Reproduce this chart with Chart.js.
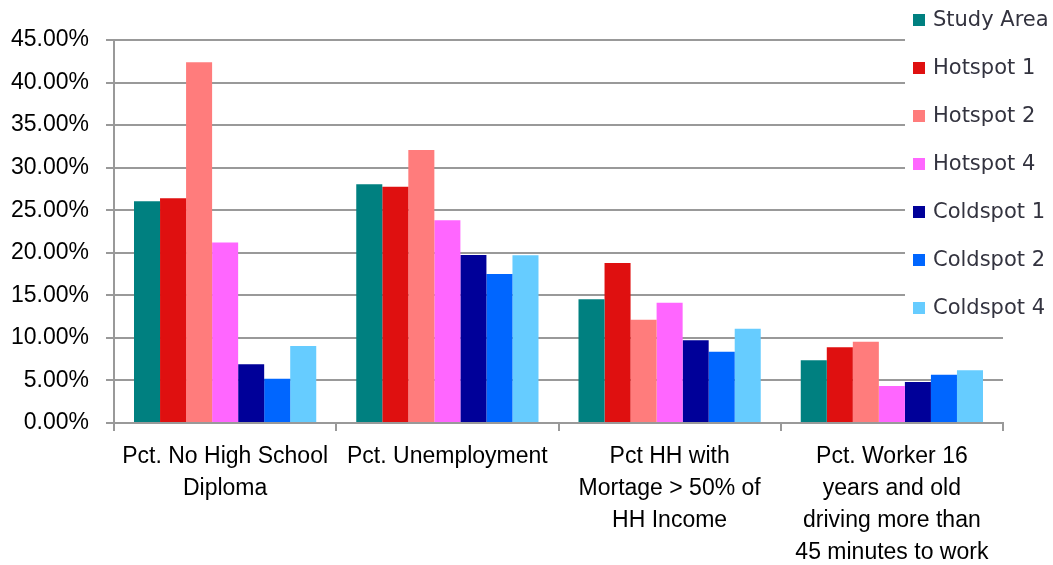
<!DOCTYPE html>
<html>
<head>
<meta charset="utf-8">
<script src="https://cdn.jsdelivr.net/npm/chart.js@4/dist/chart.umd.min.js"></script>
<style>
  html, body { margin: 0; padding: 0; background: #fff; }
  #wrap { width: 1053px; height: 565px; }
</style>
</head>
<body>
<div id="wrap"><canvas id="chart" width="1053" height="565"></canvas></div>
<script>
// Categories (x axis, multi-line labels)
const categories = [
    ['Pct. No High School', 'Diploma'],
    ['Pct. Unemployment'],
    ['Pct HH with', 'Mortage > 50% of', 'HH Income'],
    ['Pct. Worker 16', 'years and old', 'driving more than', '45 minutes to work']
];

// Series names and colours
const seriesNames = ['Study Area', 'Hotspot 1', 'Hotspot 2', 'Hotspot 4', 'Coldspot 1', 'Coldspot 2', 'Coldspot 4'];
const seriesColors = ['#008080', '#DF1010', '#FF7C7C', '#FF66FF', '#000099', '#0066FF', '#66CCFF'];

// Values in percent
const studyArea = [26.05, 28.05, 14.53, 7.37];
const hotspot1 = [26.4, 27.77, 18.8, 8.9];
const hotspot2 = [42.39, 32.08, 12.14, 9.55];
const hotspot4 = [21.2, 23.82, 14.14, 4.35];
const coldspot1 = [6.9, 19.74, 9.72, 4.82];
const coldspot2 = [5.2, 17.5, 8.38, 5.68];
const coldspot4 = [9.05, 19.7, 11.08, 6.19];

// Y axis range
const yMin = 0;
const yMax = 45;
const yStep = 5;

const seriesValues = [studyArea, hotspot1, hotspot2, hotspot4, coldspot1, coldspot2, coldspot4];

// Legend drawn on the right, over the grid lines, like the original
const sideLegend = {
    id: 'sideLegend',
    afterDraw(chart) {
        const ctx = chart.ctx;
        ctx.save();
        ctx.fillStyle = '#fff';
        ctx.fillRect(905, 0, 148, 330);
        ctx.font = '21px "DejaVu Sans"';
        ctx.textBaseline = 'middle';
        chart.data.datasets.forEach((ds, i) => {
            const y = 20 + i * 48;
            ctx.fillStyle = ds.backgroundColor;
            ctx.fillRect(913, y - 6, 12, 12);
            ctx.fillStyle = '#33333f';
            ctx.fillText(ds.label, 933, y + 1);
        });
        ctx.restore();
    }
};

const chart = new Chart(document.getElementById('chart'), {
    type: 'bar',
    data: {
        labels: categories,
        datasets: seriesNames.map((name, i) => ({
            label: name,
            data: seriesValues[i],
            backgroundColor: seriesColors[i],
            borderWidth: 0,
            categoryPercentage: 0.82,
            barPercentage: 1
        }))
    },
    options: {
        responsive: false,
        animation: false,
        devicePixelRatio: 1,
        layout: { padding: { top: 40, right: 50, left: 0, bottom: 0 } },
        plugins: {
            legend: { display: false },
            tooltip: { enabled: false }
        },
        scales: {
            x: {
                grid: {
                    offset: true,
                    drawOnChartArea: false,
                    drawTicks: true,
                    tickLength: 8,
                    color: '#999',
                    lineWidth: 2
                },
                border: { color: '#999', width: 2 },
                ticks: {
                    color: '#000',
                    font: { family: 'Liberation Sans', size: 23, lineHeight: 1.39 },
                    padding: 10,
                    maxRotation: 0,
                    autoSkip: false
                },
                afterFit: (s) => { s.height = 142; }
            },
            y: {
                min: yMin,
                max: yMax,
                grid: {
                    color: '#999',
                    lineWidth: 2,
                    tickLength: 8
                },
                border: { color: '#999', width: 2 },
                ticks: {
                    stepSize: yStep,
                    color: '#000',
                    font: { family: 'Liberation Sans', size: 23 },
                    padding: 17,
                    callback: (v) => v.toFixed(2) + '%'
                },
                afterFit: (s) => { s.width = 114; }
            }
        }
    },
    plugins: [sideLegend]
});
</script>
</body>
</html>
